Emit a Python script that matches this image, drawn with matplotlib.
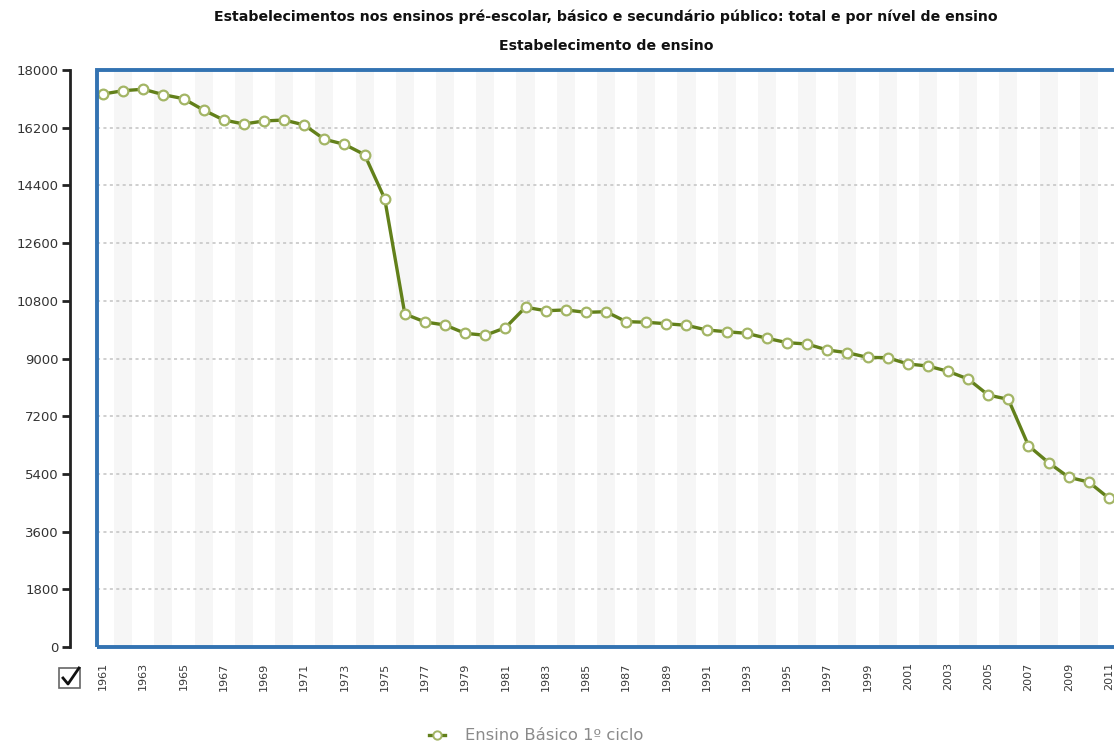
import matplotlib
matplotlib.use("Agg")
import matplotlib.pyplot as plt
from matplotlib.patches import Rectangle
from matplotlib.lines import Line2D

years = list(range(1961, 2012))
estabelecimentos = [
    17250, 17355, 17400, 17230, 17105, 16750, 16440, 16315, 16410, 16440,
    16285, 15840, 15680, 15360, 13985, 10390, 10140, 10045, 9785, 9725,
    9960, 10600, 10490, 10515, 10440, 10460, 10150, 10130, 10085, 10035,
    9890, 9835, 9785, 9630, 9495, 9450, 9265, 9180, 9035, 9025,
    8830, 8765, 8600, 8360, 7860, 7725, 6280, 5750, 5295, 5145,
    4640,
]
y_ticks = [0, 1800, 3600, 5400, 7200, 9000, 10800, 12600, 14400, 16200, 18000]
x_labels = years[::2]

titulo = "Estabelecimentos nos ensinos pré-escolar, básico e secundário público: total e por nível de ensino"
subtitulo = "Estabelecimento de ensino"
serie = "Ensino Básico 1º ciclo"

line_green = "#62801a"
edge_green = "#a3b565"
frame_blue = "#3373b2"

W, H = 1114, 742
fig = plt.figure(figsize=(W / 100, H / 100), dpi=100)
fig.patch.set_facecolor("white")

left, top, bottom, right = 97, 70, 647, 1116
ax = fig.add_axes([left / W, 1 - bottom / H, (right - left) / W, (bottom - top) / H])
ax.set_xlim(1960.7, 2011.35)
ax.set_ylim(0, 18000)

# faint vertical stripes
for yr in range(1962, 2012, 2):
    ax.axvspan(yr - 0.45, yr + 0.45, color="#f6f6f6", lw=0, zorder=0)

for v in y_ticks[1:-1]:
    ax.axhline(v, color="#c2c2c2", lw=1.1, ls=(0, (2, 2.2)), zorder=1)

ax.plot(years, estabelecimentos, color=line_green, lw=2.4, zorder=3,
        marker="o", ms=7, mfc="white", mec=edge_green, mew=1.6)

# y axis: black line offset from blue frame
for s in ["top", "right", "bottom"]:
    ax.spines[s].set_visible(False)
ax.spines["left"].set_position(("outward", 27 * 72 / 100))
ax.spines["left"].set_color("#222222")
ax.spines["left"].set_linewidth(2)
ax.set_yticks(y_ticks)
ax.set_yticklabels([str(v) for v in y_ticks])
ax.tick_params(axis="y", length=6, width=2, color="#222222", labelsize=9.5,
               labelcolor="#333333", pad=2)

ax.set_xticks(x_labels)
ax.set_xticklabels([str(v) for v in x_labels], rotation=90)
ax.tick_params(axis="x", length=0, labelsize=8, labelcolor="#3a3a3a", pad=11)

ax.add_patch(Rectangle((0, 0), 1, 1, transform=ax.transAxes, fill=False,
                       ec=frame_blue, lw=2.8, clip_on=False, zorder=5))

fig.text(606 / W, 1 - 17 / H, titulo, ha="center", va="center",
         fontsize=10.2, fontweight="bold", color="#111111")
fig.text(606 / W, 1 - 46 / H, subtitulo, ha="center", va="center",
         fontsize=10.2, fontweight="bold", color="#111111")

# checkbox
fig.patches.append(Rectangle((59 / W, 1 - 688 / H), 21 / W, 20 / H, transform=fig.transFigure,
                             fill=False, ec="#666666", lw=1.2))
fig.lines.append(Line2D([63 / W, 68 / W, 79 / W], [1 - 678 / H, 1 - 684 / H, 1 - 668 / H],
                        transform=fig.transFigure, color="#111111", lw=2))

# legend
fig.lines.append(Line2D([429 / W, 445 / W], [1 - 735 / H, 1 - 735 / H], transform=fig.transFigure,
                        color=line_green, lw=2.4))
fig.lines.append(Line2D([437 / W], [1 - 735 / H], transform=fig.transFigure, color=line_green,
                        marker="o", ms=6, mfc="white", mec=edge_green, mew=1.4, lw=0))
fig.text(465 / W, 1 - 735 / H, serie, ha="left", va="center", fontsize=11.8, color="#8a8a8a")

fig.savefig("out.png", dpi=100, facecolor="white")
